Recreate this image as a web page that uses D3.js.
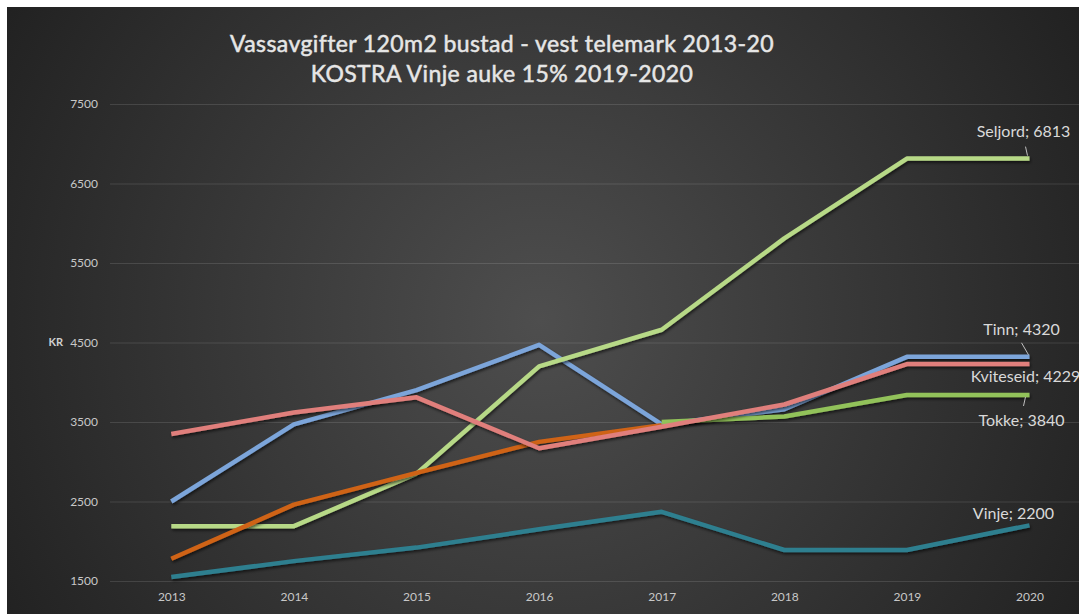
<!DOCTYPE html>
<html>
<head>
<meta charset="utf-8">
<script src="https://cdn.jsdelivr.net/npm/d3@7"></script>
<style>
	html, body { margin: 0; padding: 0; background: #ffffff; }
	svg { display: block; font-family: Lato, 'Open Sans', sans-serif; }
</style>
</head>
<body>
<svg id="chart" width="1079" height="614"></svg>
<script>
// Chart data
var years = [2013, 2014, 2015, 2016, 2017, 2018, 2019, 2020];
var seriesNames = ["Tinn", "Seljord", "Eldre", "Tokke", "Kviteseid", "Vinje"];
var tinn = [2500, 3470, 3900, 4470, 3470, 3660, 4320, 4320];
var seljord = [2190, 2190, 2850, 4200, 4660, 5810, 6813, 6813];
var eldre = [1780, 2460, 2860, 3250, 3460, null, null, null];
var tokke = [null, null, null, null, 3500, 3570, 3840, 3840];
var kviteseid = [3350, 3620, 3810, 3170, 3440, 3720, 4229, 4229];
var vinje = [1550, 1750, 1920, 2150, 2370, 1890, 1890, 2200];
var yTicks = [1500, 2500, 3500, 4500, 5500, 6500, 7500];
var titleLines = ["Vassavgifter 120m2 bustad - vest telemark 2013-20", "KOSTRA Vinje auke 15% 2019-2020"];
var yTitle = "KR";

var allValues = [tinn, seljord, eldre, tokke, kviteseid, vinje];
var colors = ["#7ca5da", "#b7d987", "#cf6319", "#92c25a", "#e07f7b", "#2f7f8f"];

// Data label placement (last point), offsets in px
var labelOpts = {
	"Seljord": { dx: -6, dy: -27, leader: [[-4, -12], [-2, -3]] },
	"Tinn": { dx: -8, dy: -27, leader: [[-8, -14], [-1, -2]] },
	"Kviteseid": { dx: -4, dy: 12, leader: null },
	"Tokke": { dx: -8, dy: 25, leader: [[-6, 11], [-4, 2]] },
	"Vinje": { dx: -16, dy: -12, leader: null }
};

var svg = d3.select("#chart");
var W = 1079, H = 614;

var margin = { top: 104, left: 110, bottom: 33 };

// Background
var defs = svg.append("defs");
var grad = defs.append("radialGradient")
	.attr("id", "bg")
	.attr("gradientUnits", "userSpaceOnUse")
	.attr("cx", 540).attr("cy", 320).attr("r", 640);
grad.append("stop").attr("offset", "0%").attr("stop-color", "#4e4e4e");
grad.append("stop").attr("offset", "100%").attr("stop-color", "#202020");

var shadow = defs.append("filter")
	.attr("id", "shadow")
	.attr("x", "-10%").attr("y", "-10%").attr("width", "120%").attr("height", "130%");
shadow.append("feDropShadow")
	.attr("dx", 1).attr("dy", 2)
	.attr("stdDeviation", 1.5)
	.attr("flood-color", "#000")
	.attr("flood-opacity", 0.6);

svg.append("rect")
	.attr("x", 7).attr("y", 7)
	.attr("width", W - 7).attr("height", H - 7)
	.attr("fill", "url(#bg)");

// Scales
var x = d3.scalePoint()
	.domain(years)
	.range([margin.left, margin.left + 8 * 122.6])
	.padding(0.5);

var y = d3.scaleLinear()
	.domain([1500, 7500])
	.range([H - margin.bottom, margin.top]);

// Gridlines
svg.append("g")
	.attr("class", "grid")
	.attr("transform", "translate(" + margin.left + ",0)")
	.call(d3.axisLeft(y).tickValues(yTicks).tickSize(-(W - margin.left)).tickFormat(""))
	.call(function(g) { g.select(".domain").remove(); })
	.selectAll("line")
		.attr("stroke", "#ffffff")
		.attr("stroke-opacity", 0.12);

// Y Axis labels
var yAxis = svg.append("g")
	.attr("transform", "translate(" + (margin.left - 12) + ",0)")
	.call(d3.axisLeft(y).tickValues(yTicks).tickSize(0).tickPadding(0).tickFormat(d3.format("d")));
yAxis.select(".domain").remove();
yAxis.selectAll("text")
	.attr("fill", "#c8c8c8")
	.style("font-size", "12px")
	.style("font-family", "Lato, sans-serif");

svg.append("text")
	.attr("x", 63)
	.attr("y", y(4500))
	.attr("dy", ".35em")
	.attr("text-anchor", "end")
	.attr("fill", "#d0d0d0")
	.style("font-size", "11px")
	.style("font-weight", "bold")
	.text(yTitle);

// X Axis labels
var xAxis = svg.append("g")
	.attr("transform", "translate(0," + (H - margin.bottom) + ")")
	.call(d3.axisBottom(x).tickSize(0).tickPadding(11));
xAxis.select(".domain").remove();
xAxis.selectAll("text")
	.attr("fill", "#c8c8c8")
	.style("font-size", "12px")
	.style("font-family", "Lato, sans-serif");

// Title
svg.append("g").selectAll("text")
	.data(titleLines)
	.enter().append("text")
		.attr("x", 502)
		.attr("y", function(d, i) { return 52 + i * 30; })
		.attr("text-anchor", "middle")
		.attr("fill", "#e6e6e6")
		.attr("stroke", "#e6e6e6")
		.attr("stroke-width", 0.5)
		.style("font-size", "23px")
		.style("letter-spacing", "0.4px")
		.text(function(d) { return d; });

// Lines
var line = d3.line()
	.defined(function(d) { return d != null; })
	.x(function(d, i) { return x(years[i]); })
	.y(function(d) { return y(d); });

svg.append("g").selectAll("path")
	.data(allValues)
	.enter().append("path")
		.attr("fill", "none")
		.attr("stroke", function(d, i) { return colors[i]; })
		.attr("stroke-width", 4.5)
		.attr("stroke-linejoin", "round")
		.attr("filter", "url(#shadow)")
		.attr("d", line);

// Data labels on last point
var labels = seriesNames.map(function(name, i) {
	return { name: name, value: allValues[i][years.length - 1] };
}).filter(function(d) { return labelOpts[d.name]; });

var lab = svg.append("g").selectAll("g")
	.data(labels)
	.enter().append("g");

lab.filter(function(d) { return labelOpts[d.name].leader; })
	.append("line")
		.attr("x1", function(d) { return x(2020) + labelOpts[d.name].leader[0][0]; })
		.attr("y1", function(d) { return y(d.value) + labelOpts[d.name].leader[0][1]; })
		.attr("x2", function(d) { return x(2020) + labelOpts[d.name].leader[1][0]; })
		.attr("y2", function(d) { return y(d.value) + labelOpts[d.name].leader[1][1]; })
		.attr("stroke", "#bfbfbf")
		.attr("stroke-width", 1);

lab.append("text")
	.attr("x", function(d) { return x(2020) + labelOpts[d.name].dx; })
	.attr("y", function(d) { return y(d.value) + labelOpts[d.name].dy; })
	.attr("dy", ".35em")
	.attr("text-anchor", "middle")
	.attr("fill", "#d9d9d9")
	.style("font-size", "16px")
	.text(function(d) { return d.name + "; " + d.value; });
</script>
</body>
</html>
